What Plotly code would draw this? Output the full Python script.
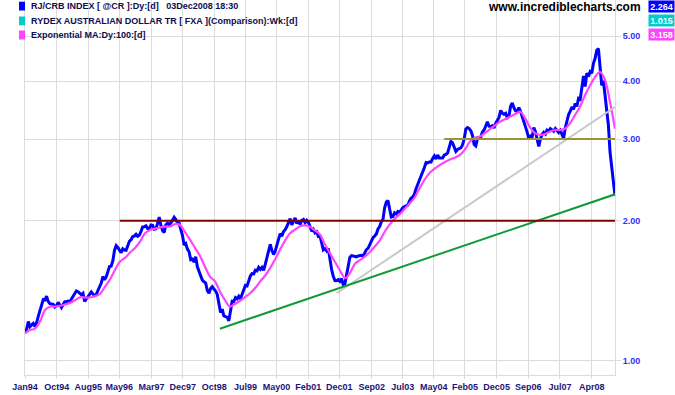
import plotly.graph_objects as go
import pandas as pd

START = "1994-01-03"
END = "2008-12-03"

crb_values = [
    1.148, 1.169, 1.213, 1.183, 1.193, 1.202, 1.184, 1.207, 1.245, 1.285,
    1.330, 1.353, 1.350, 1.376, 1.340, 1.326, 1.324, 1.322, 1.304, 1.312,
    1.334, 1.312, 1.300, 1.320, 1.339, 1.339, 1.343, 1.339, 1.357, 1.377,
    1.403, 1.412, 1.407, 1.393, 1.386, 1.396, 1.340, 1.357, 1.373, 1.395,
    1.405, 1.391, 1.379, 1.388, 1.412, 1.431, 1.468, 1.517, 1.492, 1.514,
    1.556, 1.594, 1.597, 1.640, 1.727, 1.769, 1.753, 1.725, 1.707, 1.740,
    1.730, 1.728, 1.770, 1.807, 1.821, 1.850, 1.854, 1.871, 1.852, 1.861,
    1.898, 1.940, 1.941, 1.951, 1.926, 1.920, 1.959, 1.955, 1.918, 1.923,
    1.974, 2.038, 1.954, 1.906, 1.888, 1.961, 1.976, 1.964, 1.979, 2.008,
    2.036, 2.013, 1.982, 1.976, 1.914, 1.861, 1.773, 1.786, 1.738, 1.715,
    1.649, 1.654, 1.630, 1.674, 1.592, 1.555, 1.519, 1.490, 1.477, 1.470,
    1.415, 1.397, 1.429, 1.443, 1.426, 1.412, 1.388, 1.334, 1.269, 1.290,
    1.248, 1.243, 1.240, 1.218, 1.293, 1.342, 1.341, 1.366, 1.358, 1.375,
    1.358, 1.391, 1.428, 1.452, 1.448, 1.487, 1.521, 1.539, 1.537, 1.565,
    1.560, 1.588, 1.572, 1.587, 1.564, 1.614, 1.668, 1.727, 1.780, 1.725,
    1.692, 1.721, 1.764, 1.826, 1.877, 1.852, 1.897, 1.914, 1.944, 1.980,
    2.021, 1.961, 2.004, 2.029, 1.973, 1.998, 1.965, 2.004, 2.014, 1.981,
    2.005, 1.984, 1.944, 1.898, 1.918, 1.884, 1.894, 1.851, 1.855, 1.789,
    1.732, 1.743, 1.723, 1.744, 1.651, 1.572, 1.518, 1.487, 1.486, 1.494,
    1.481, 1.501, 1.458, 1.463, 1.527, 1.598, 1.667, 1.683, 1.679, 1.680,
    1.673, 1.680, 1.685, 1.685, 1.678, 1.714, 1.733, 1.745, 1.779, 1.813,
    1.840, 1.855, 1.874, 1.921, 1.944, 1.991, 2.013, 2.134, 2.195, 2.211,
    2.136, 2.038, 2.044, 2.081, 2.069, 2.095, 2.086, 2.114, 2.136, 2.146,
    2.157, 2.163, 2.207, 2.240, 2.251, 2.285, 2.349, 2.395, 2.461, 2.505,
    2.542, 2.606, 2.671, 2.665, 2.678, 2.678, 2.726, 2.759, 2.718, 2.773,
    2.732, 2.732, 2.732, 2.773, 2.780, 2.801, 2.879, 2.966, 2.944, 2.872,
    2.822, 2.850, 2.857, 2.872, 2.915, 3.003, 3.155, 3.178, 3.162, 3.127,
    3.055, 2.922, 2.901, 3.009, 3.009, 3.029, 3.108, 3.139, 3.202, 3.271,
    3.199, 3.194, 3.208, 3.171, 3.243, 3.289, 3.340, 3.458, 3.413, 3.393,
    3.411, 3.337, 3.361, 3.530, 3.589, 3.507, 3.452, 3.438, 3.509, 3.445,
    3.362, 3.285, 3.219, 3.106, 3.007, 3.046, 3.029, 3.176, 3.112, 2.987,
    2.894, 3.003, 3.070, 3.103, 3.077, 3.136, 3.122, 3.161, 3.136, 3.120,
    3.161, 3.128, 3.100, 3.133, 3.079, 3.011, 3.174, 3.277, 3.389, 3.445,
    3.519, 3.477, 3.581, 3.530, 3.672, 3.654, 3.892, 4.104, 3.896, 4.160,
    4.094, 4.192, 4.160, 4.370, 4.481, 4.664, 4.700, 4.312, 3.915, 4.007,
    3.741, 3.554, 3.218, 2.814, 2.587, 2.431, 2.264,
]

# Exponential MA (100 day), evenly sampled from START to END
ma_values = [
    1.144, 1.163, 1.172, 1.213, 1.285, 1.306, 1.307, 1.312, 1.320, 1.331,
    1.349, 1.368, 1.367, 1.367, 1.377, 1.391, 1.443, 1.496, 1.567, 1.635,
    1.664, 1.709, 1.748, 1.803, 1.880, 1.911, 1.924, 1.935, 1.943, 1.943,
    1.968, 1.959, 1.891, 1.822, 1.749, 1.680, 1.592, 1.516, 1.481, 1.407,
    1.350, 1.307, 1.324, 1.345, 1.370, 1.396, 1.431, 1.479, 1.523, 1.580,
    1.650, 1.733, 1.812, 1.880, 1.915, 1.947, 1.955, 1.943, 1.907, 1.867,
    1.778, 1.702, 1.630, 1.563, 1.506, 1.544, 1.617, 1.646, 1.677, 1.716,
    1.763, 1.818, 1.899, 1.967, 2.023, 2.068, 2.126, 2.185, 2.251, 2.359,
    2.461, 2.542, 2.594, 2.639, 2.678, 2.711, 2.739, 2.773, 2.850, 2.966,
    3.024, 3.038, 3.094, 3.152, 3.212, 3.271, 3.312, 3.354, 3.396, 3.438,
    3.329, 3.182, 3.089, 3.063, 3.078, 3.116, 3.139, 3.139, 3.158, 3.245,
    3.379, 3.523, 3.728, 3.913, 4.080, 4.187, 4.023, 3.606, 3.158,
]

# Trend / support / resistance lines
resist_dates = ["1996-05-27", END]
resist_values = [2.00, 2.00]
support_dates = ["2004-08-09", END]
support_values = [3.00, 3.00]
green_dates = ["1998-12-08", END]
green_values = [1.171, 2.281]
gray_dates = ["2001-11-19", END]
gray_values = [1.396, 3.518]

tick_dates = ["1994-01-03", "1994-10-23", "1995-08-10", "1996-05-22", "1997-03-17",
              "1997-12-29", "1998-10-16", "1999-08-02", "2000-05-14", "2001-03-02",
              "2001-12-13", "2002-10-09", "2003-07-22", "2004-05-05", "2005-02-16",
              "2005-12-06", "2006-09-24", "2007-07-14", "2008-05-02"]
tick_labels = ["Jan94", "Oct94", "Aug95", "May96", "Mar97", "Dec97", "Oct98", "Jul99",
               "May00", "Feb01", "Dec01", "Sep02", "Jul03", "May04", "Feb05", "Dec05",
               "Sep06", "Jul07", "Apr08"]
y_ticks = [1, 2, 3, 4, 5]
y_labels = ["1.00", "2.00", "3.00", "4.00", "5.00"]

legend_texts = ["RJ/CRB INDEX [ @CR ]:Dy:[d]&nbsp;&nbsp; 03Dec2008 18:30",
                "RYDEX AUSTRALIAN DOLLAR TR [ FXA ](Comparison):Wk:[d]",
                "Exponential MA:Dy:100:[d]"]
legend_colors = ["#0000ff", "#00cccc", "#ff44ff"]
last_values = ["2.264", "1.015", "3.158"]

crb_dates = pd.date_range(START, END, periods=len(crb_values))
ma_dates = pd.date_range(START, END, periods=len(ma_values))

FONT = "Liberation Sans, Arial, sans-serif"
W, H = 675, 395
L, R, T, B = 25, 60, 0, 20
PW, PH = W - L - R, H - T - B


def px_x(p):
    return (p - L) / PW


def px_y(p):
    return (H - B - p) / PH


fig = go.Figure()
fig.add_trace(go.Scatter(x=crb_dates, y=crb_values, mode="lines",
                         line=dict(color="#0000ff", width=3), hoverinfo="skip"))
fig.add_trace(go.Scatter(x=ma_dates, y=ma_values, mode="lines",
                         line=dict(color="#ff44ff", width=2.2, shape="spline"), hoverinfo="skip"))
fig.add_trace(go.Scatter(x=gray_dates, y=gray_values, mode="lines",
                         line=dict(color="#c8c8c8", width=2), hoverinfo="skip"))
fig.add_trace(go.Scatter(x=green_dates, y=green_values, mode="lines",
                         line=dict(color="#109a38", width=2), hoverinfo="skip"))
fig.add_trace(go.Scatter(x=resist_dates, y=resist_values, mode="lines",
                         line=dict(color="#800000", width=2), hoverinfo="skip"))
fig.add_trace(go.Scatter(x=support_dates, y=support_values, mode="lines",
                         line=dict(color="#9c9432", width=2), hoverinfo="skip"))

annotations = []
shapes = []
row_centers = [6.5, 21, 35]
square_spans = [(1.7, 10.5), (16.5, 25.3), (30.5, 39.5)]
for txt, col, yc, (s0, s1) in zip(legend_texts, legend_colors, row_centers, square_spans):
    shapes.append(dict(type="rect", xref="paper", yref="paper",
                       x0=px_x(19), x1=px_x(25), y0=px_y(s1), y1=px_y(s0),
                       fillcolor=col, line=dict(width=0), layer="above"))
    annotations.append(dict(text=txt, xref="paper", yref="paper", x=px_x(28.5), y=px_y(yc),
                            xanchor="left", yanchor="middle", showarrow=False,
                            font=dict(family=FONT, size=9, color="#0c0c50", weight="bold")))

annotations.append(dict(text="www.incrediblecharts.com", xref="paper", yref="paper",
                        x=px_x(643), y=px_y(7), xanchor="right", yanchor="middle",
                        showarrow=False,
                        font=dict(family=FONT, size=12, color="#000000", weight="bold")))

badge_centers = [6.7, 20, 34.3]
for val, col, yc in zip(last_values, legend_colors, badge_centers):
    annotations.append(dict(text=val, xref="paper", yref="paper",
                            x=px_x(648), y=px_y(yc), xanchor="left", yanchor="middle",
                            showarrow=False, bgcolor=col, width=25, height=11, borderpad=0,
                            align="center",
                            font=dict(family=FONT, size=9, color="#ffffff", weight="bold")))

fig.update_layout(
    width=W, height=H,
    margin=dict(l=L, r=R, t=T, b=B, pad=0),
    paper_bgcolor="#ffffff", plot_bgcolor="#ffffff",
    showlegend=False,
    annotations=annotations, shapes=shapes,
    xaxis=dict(type="date", range=[START, END], tickmode="array",
               tickvals=tick_dates, ticktext=tick_labels,
               showgrid=True, gridcolor="#dcdcdc", gridwidth=1,
               ticks="outside", ticklen=3, tickcolor="#dcdcdc",
               showline=True, linecolor="#dcdcdc", mirror=True,
               tickfont=dict(family=FONT, size=9, color="#1c1478", weight="bold"),
               zeroline=False, fixedrange=True),
    yaxis=dict(type="log", side="right", range=[-0.03125, 0.7769],
               tickmode="array", tickvals=y_ticks, ticktext=y_labels,
               showgrid=True, gridcolor="#dcdcdc", gridwidth=1,
               ticks="outside", ticklen=5, tickcolor="#dcdcdc",
               showline=True, linecolor="#dcdcdc", mirror=True,
               tickfont=dict(family=FONT, size=9, color="#3030ff", weight="bold"),
               zeroline=False, fixedrange=True),
)

fig.write_html("out.html", config={"displayModeBar": False},
               post_script="document.body.style.margin='0px';document.body.style.overflow='hidden';")
